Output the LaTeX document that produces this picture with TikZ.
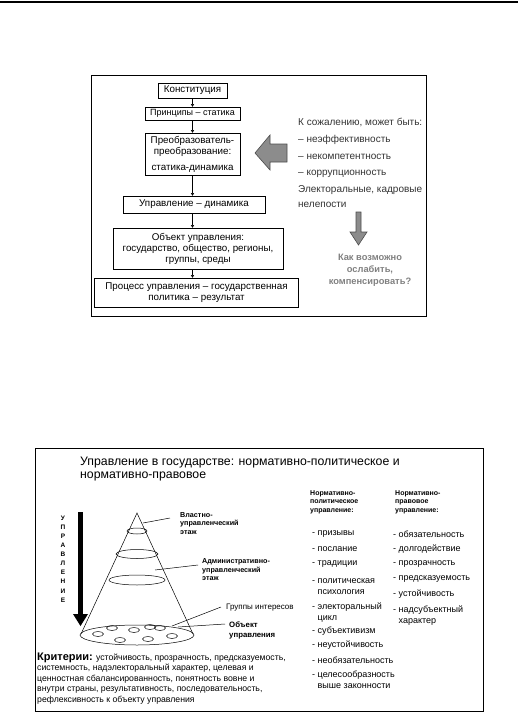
\documentclass[tikz,border=0pt]{standalone}
\usepackage{fontspec}
\setmainfont{Liberation Sans}
\usetikzlibrary{arrows.meta}
\begin{document}
\begin{tikzpicture}[x=1pt,y=-1pt,
  frame/.style={draw, line width=0.7pt},
  box/.style={draw, line width=0.6pt, inner sep=0pt, align=center, font=\fontsize{9.8}{11}\selectfont},
  conn/.style={line width=0.3pt, -{Triangle[length=2.5pt,width=3pt]}},
  rtxt/.style={anchor=west, inner sep=0pt, font=\fontsize{10}{11}\selectfont, text=black!80},
  qtxt/.style={align=center, inner sep=0pt, font=\bfseries\fontsize{9.3}{12}\selectfont, text=black!50},
  garrow/.style={fill=black!45, draw=black!70, line width=0.6pt},
  ttl/.style={anchor=west, inner sep=0pt, font=\fontsize{12.3}{13}\selectfont},
  lbl/.style={anchor=west, inner sep=0pt, align=left, font=\bfseries\fontsize{7.2}{8.5}\selectfont},
  hdr/.style={anchor=west, inner sep=0pt, align=left, font=\bfseries\fontsize{7}{8.5}\selectfont},
  item/.style={anchor=west, inner sep=0pt, font=\fontsize{9}{11.5}\selectfont},
  crl/.style={anchor=base west, inner sep=0pt, font=\fontsize{8.7}{10}\selectfont},
  vlet/.style={inner sep=0pt, font=\bfseries\fontsize{6.5}{7}\selectfont},
  thin line/.style={line width=0.5pt}
]
\useasboundingbox (0,0) rectangle (518,713);
% top rule
\draw[line width=1.4pt] (0,2) -- (518,2);

% ===== Top figure =====
\draw[frame] (91,75) rectangle (426,316);
\node[box, minimum width=69pt, minimum height=15pt] (konst) at (192.5,90.5) {Конституция};
\node[box, minimum width=95pt, minimum height=13pt, font=\fontsize{9}{10}\selectfont] (princ) at (192.5,113.5) {Принципы – статика};
\node[box, minimum width=95pt, minimum height=42pt] (preob) at (192.5,154) {Преобразователь-\\преобразование:\\[5pt]статика-динамика};
\node[box, minimum width=142pt, minimum height=17pt] (upr) at (194,204.5) {Управление – динамика};
\node[box, minimum width=170pt, minimum height=41pt] (obj) at (198,248.5) {Объект управления:\\государство, общество, регионы,\\группы, среды};
\node[box, minimum width=204pt, minimum height=29pt] (proc) at (196.5,292.5) {Процесс управления – государственная\\политика – результат};

\draw[conn] (konst.south) -- (konst.south |- princ.north);
\draw[conn] (konst |- princ.south) -- (konst |- preob.north);
\draw[conn] (konst |- preob.south) -- (konst |- upr.north);
\draw[conn] (konst |- upr.south) -- (konst |- obj.north);
\draw[conn] (konst |- obj.south) -- (konst |- proc.north);

\draw[garrow] (255,153) -- (270,135) -- (270,144) -- (287,144) -- (287,162) -- (270,162) -- (270,170) -- cycle;

\node[rtxt] (t1) at (298,122) {К сожалению, может быть:};
\node[rtxt] (t2) at (298,140) {– неэффективность};
\node[rtxt] (t3) at (298,157) {– некомпетентность};
\node[rtxt] (t4) at (298,174) {– коррупционность};
\node[rtxt] (t5) at (298,190) {Электоральные, кадровые};
\node[rtxt] (t6) at (298,205) {нелепости};

\draw[garrow] (356,212) -- (361,212) -- (361,232) -- (367,232) -- (358.5,245) -- (350,232) -- (356,232) -- cycle;
\node[qtxt] (q) at (370,270) {Как возможно\\ослабить,\\компенсировать?};

% ===== Bottom figure =====
\draw[frame] (35,448) rectangle (483,711);
\node[ttl] (title1) at (80,463) {Управление в государстве: нормативно-политическое и};
\node[ttl] (title2) at (80,476) {нормативно-правовое};

% vertical word and arrow
\foreach \l [count=\i from 0] in {У,П,Р,А,В,Л,Е,Н,И,Е}
  \node[vlet] at (63,518+\i*9.1) {\l};
\fill (78,512) rectangle (83,614);
\fill (73,614) -- (88,614) -- (80.5,626) -- cycle;

% cone
\draw[thin line] (81,634) -- (137,513) -- (193,634);
\draw[thin line] (137,531) ellipse [x radius=10, y radius=3];
\draw[thin line] (137,554) ellipse [x radius=21, y radius=4.5];
\draw[thin line] (137,580) ellipse [x radius=28, y radius=5];
\draw[thin line] (137,635) ellipse [x radius=57, y radius=10];
\foreach \px/\py in {98/634, 112/628, 120/640, 134/630, 148/639, 160/628, 172/636, 150/627}
  \draw[thin line] (\px,\py) ellipse [x radius=5.5, y radius=2.5];

% labels
\coordinate (l1a) at (143,523); \coordinate (l1b) at (170,518);
\draw[thin line] (l1a) -- (l1b);
\node[lbl] (lab1) at (180,523.5) {Властно-\\управленческий\\этаж};
\coordinate (l2a) at (155,570); \coordinate (l2b) at (198,565);
\draw[thin line] (l2a) -- (l2b);
\node[lbl] (lab2) at (202,570) {Административно-\\управленческий\\этаж};
\coordinate (l3a) at (172,626); \coordinate (l3b) at (221,607);
\draw[thin line] (l3a) -- (l3b);
\node[lbl, font=\fontsize{8}{8.5}\selectfont] (lab3) at (226,608) {Группы интересов};
\coordinate (l4a) at (178,627); \coordinate (l4b) at (225,624);
\draw[thin line] (l4a) -- (l4b);
\node[lbl, font=\bfseries\fontsize{7.8}{10}\selectfont] (lab4) at (229,630) {Объект\\управления};

% columns
\node[hdr] (h1) at (310,502) {Нормативно-\\политическое\\управление:};
\node[hdr] (h2) at (395,502) {Нормативно-\\правовое\\управление:};

\node[item] at (312,534) {- призывы};
\node[item] at (312,549) {- послание};
\node[item] at (312,564) {- традиции};
\node[item, anchor=north west] at (312,575) {- \begin{tabular}[t]{@{}l@{}}политическая\\психология\end{tabular}};
\node[item, anchor=north west] at (312,601) {- \begin{tabular}[t]{@{}l@{}}электоральный\\цикл\end{tabular}};
\node[item] at (312,631) {- субъективизм};
\node[item] at (312,645.5) {- неустойчивость};
\node[item] at (312,660) {- необязательность};
\node[item, anchor=north west] at (312,669) {- \begin{tabular}[t]{@{}l@{}}целесообразность\\выше законности\end{tabular}};

\node[item] at (393,534) {- обязательность};
\node[item] at (393,549) {- долгодействие};
\node[item] at (393,564) {- прозрачность};
\node[item] at (393,579) {- предсказуемость};
\node[item] at (393,594) {- устойчивость};
\node[item, anchor=north west] at (393,604) {- \begin{tabular}[t]{@{}l@{}}надсубъектный\\характер\end{tabular}};

% criteria
\node[crl] (c1) at (37,660) {{\bfseries\fontsize{11}{11}\selectfont Критерии:} устойчивость, прозрачность, предсказуемость,};
\node[crl] (c2) at (37,670.5) {системность, надэлекторальный характер, целевая и};
\node[crl] (c3) at (37,681) {ценностная сбалансированность, понятность вовне и};
\node[crl] (c4) at (37,691.5) {внутри страны, результативность, последовательность,};
\node[crl] (c5) at (37,702) {рефлексивность к объекту управления};
\end{tikzpicture}
\end{document}
